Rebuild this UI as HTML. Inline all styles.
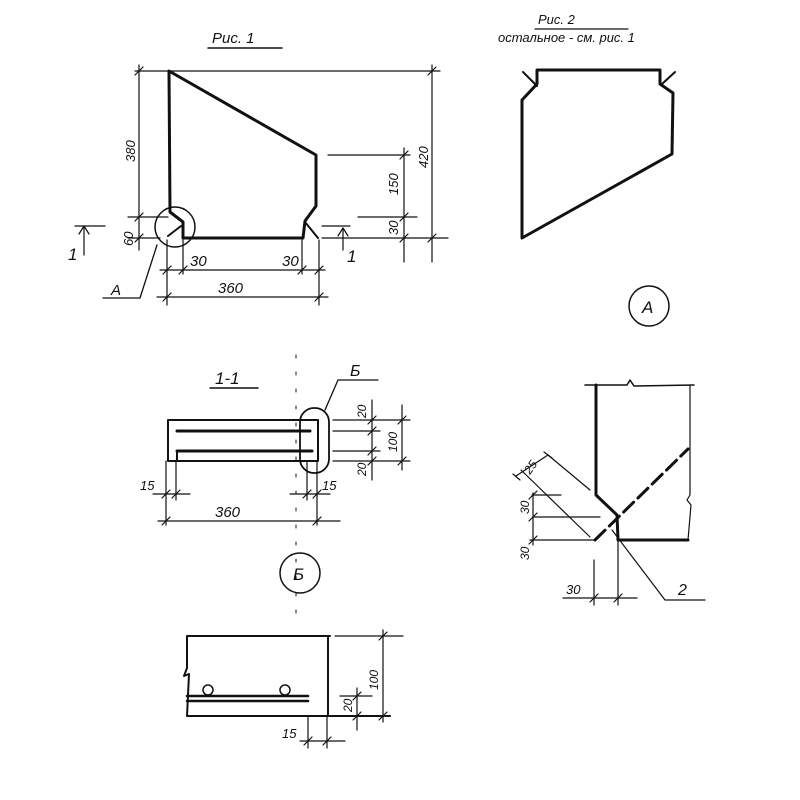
<!DOCTYPE html>
<html><head><meta charset="utf-8"><style>
html,body{margin:0;padding:0;background:#fff}
svg{display:block}
text{font-family:"Liberation Sans",sans-serif;font-style:italic;fill:#111}
</style></head><body>
<svg width="800" height="800" viewBox="0 0 800 800" xmlns="http://www.w3.org/2000/svg">
<g stroke="#111" fill="none" stroke-linecap="round" stroke-linejoin="round">
<!-- Fig 1 -->
<line x1="208" y1="48" x2="282" y2="48" stroke-width="1.5"/>
<path d="M169,71 L316,155 L316,206 L305,221 L303,238 L183,238 L183,222 L170,212 Z" stroke-width="3"/>
<path d="M168,236 L181,226 M305,222 L318,238" stroke-width="2"/>
<circle cx="175" cy="227" r="20" stroke-width="1.5"/>
<path d="M157,245 L140,298 L103,298" stroke-width="1.3"/>
<g stroke-width="1.2">
<line x1="135" y1="71" x2="440" y2="71"/>
<line x1="139" y1="65" x2="139" y2="250"/>
<line x1="128" y1="217" x2="168" y2="217"/>
<line x1="128" y1="238" x2="160" y2="238"/>
<line x1="328" y1="155" x2="410" y2="155"/>
<line x1="358" y1="217" x2="417" y2="217"/>
<line x1="322" y1="238" x2="448" y2="238"/>
<line x1="404" y1="148" x2="404" y2="262"/>
<line x1="432" y1="65" x2="432" y2="262"/>
<line x1="75" y1="226" x2="105" y2="226"/>
<line x1="84" y1="255" x2="84" y2="226"/>
<path d="M79,234 L84,226 L89,234"/>
<line x1="322" y1="226" x2="350" y2="226"/>
<line x1="343" y1="250" x2="343" y2="228"/>
<path d="M338,236 L343,228 L348,236"/>
<line x1="167" y1="240" x2="167" y2="305"/>
<line x1="183" y1="240" x2="183" y2="274"/>
<line x1="319" y1="240" x2="319" y2="305"/>
<line x1="302" y1="240" x2="302" y2="274"/>
<line x1="160" y1="270" x2="325" y2="270"/>
<line x1="157" y1="297" x2="328" y2="297"/>
<!-- ticks -->
<path d="M135,75 L143,67 M135,221 L143,213 M135,242 L143,234 M400,159 L408,151 M400,221 L408,213 M400,242 L408,234 M428,75 L436,67 M428,242 L436,234 M163,274 L171,266 M179,274 L187,266 M298,274 L306,266 M315,274 L323,266 M163,301 L171,293 M315,301 L323,293"/>
</g>
<!-- Fig 2 -->
<line x1="535" y1="29" x2="628" y2="29" stroke-width="1.2"/>
<path d="M537,70 L660,70 L660,84 L673,93 L672,154 L522,238 L522,100 L537,84 Z" stroke-width="3"/>
<path d="M523,72 L537,86 M675,72 L662,84" stroke-width="2"/>
<circle cx="649" cy="306" r="20" stroke-width="1.5"/>
<!-- Section 1-1 -->
<line x1="210" y1="388" x2="258" y2="388" stroke-width="1.5"/>
<path d="M168,420 L318,420 L318,461 L168,461 Z" stroke-width="2"/>
<line x1="177" y1="431" x2="310" y2="431" stroke-width="3"/>
<line x1="177" y1="451" x2="312" y2="451" stroke-width="3"/>
<line x1="177" y1="451" x2="177" y2="461" stroke-width="2"/>
<rect x="300" y="408" width="29" height="65" rx="14" stroke-width="1.8"/>
<path d="M325,410 L338,380 L378,380" stroke-width="1.3"/>
<line x1="296" y1="355" x2="296" y2="620" stroke-width="1" stroke-dasharray="3,14"/>
<g stroke-width="1.2">
<line x1="333" y1="420" x2="410" y2="420"/>
<line x1="333" y1="431" x2="380" y2="431"/>
<line x1="333" y1="451" x2="380" y2="451"/>
<line x1="333" y1="461" x2="410" y2="461"/>
<line x1="372" y1="400" x2="372" y2="480"/>
<line x1="402" y1="405" x2="402" y2="470"/>
<line x1="166" y1="461" x2="166" y2="525"/>
<line x1="176" y1="461" x2="176" y2="500"/>
<line x1="317" y1="461" x2="317" y2="525"/>
<line x1="307" y1="461" x2="307" y2="500"/>
<line x1="153" y1="494" x2="190" y2="494"/>
<line x1="290" y1="494" x2="330" y2="494"/>
<line x1="158" y1="521" x2="340" y2="521"/>
<path d="M368,424 L376,416 M368,435 L376,427 M368,455 L376,447 M368,465 L376,457 M398,424 L406,416 M398,465 L406,457 M162,498 L170,490 M172,498 L180,490 M303,498 L311,490 M313,498 L321,490 M162,525 L170,517 M313,525 L321,517"/>
</g>
<circle cx="300" cy="573" r="20" stroke-width="1.5"/>
<!-- Detail Б -->
<path d="M187,636 L330,636 M328,636 L328,716 M187,716 L390,716 M187,636 L187,668 L184,676 L189,674 L187,716" stroke-width="2"/>
<line x1="187" y1="696" x2="308" y2="696" stroke-width="2.5"/>
<line x1="187" y1="701" x2="308" y2="701" stroke-width="2.5"/>
<circle cx="208" cy="690" r="5" stroke-width="1.5"/>
<circle cx="285" cy="690" r="5" stroke-width="1.5"/>
<g stroke-width="1.2">
<line x1="335" y1="636" x2="403" y2="636"/>
<line x1="383" y1="630" x2="383" y2="722"/>
<line x1="340" y1="696" x2="372" y2="696"/>
<line x1="357" y1="688" x2="357" y2="730"/>
<line x1="308" y1="716" x2="308" y2="748"/>
<line x1="327" y1="716" x2="327" y2="748"/>
<line x1="300" y1="741" x2="345" y2="741"/>
<path d="M379,640 L387,632 M379,720 L387,712 M353,700 L361,692 M353,720 L361,712 M304,745 L312,737 M323,745 L331,737"/>
</g>
<!-- Detail A -->
<path d="M585,385 L627,385 L630,380 L634,386 L694,385" stroke-width="1.5"/>
<path d="M596,385 L596,495 L617,515 L618,540 L688,540" stroke-width="3"/>
<path d="M690,385 L690,495 L687,500 L691,505 L688,540" stroke-width="1.2"/>
<line x1="595" y1="540" x2="688" y2="449" stroke-width="3" stroke-dasharray="14,6"/>
<g stroke-width="1.2">
<line x1="521" y1="470" x2="590" y2="537"/>
<line x1="516" y1="476" x2="548" y2="455"/>
<line x1="548" y1="455" x2="590" y2="490"/>
<path d="M612,530 L665,600 L705,600"/>
<line x1="533" y1="493" x2="533" y2="545"/>
<line x1="532" y1="495" x2="561" y2="495"/>
<line x1="533" y1="517" x2="600" y2="517"/>
<line x1="530" y1="540" x2="595" y2="540"/>
<line x1="594" y1="560" x2="594" y2="605"/>
<line x1="618" y1="540" x2="618" y2="605"/>
<line x1="563" y1="598" x2="637" y2="598"/>
<path d="M529,499 L537,491 M529,521 L537,513 M529,544 L537,536 M590,602 L598,594 M614,602 L622,594 M544,452 L552,458 M513,474 L520,480"/>
</g>
</g>
<g font-size="15">
<text x="212" y="43">Рис. 1</text>
<text x="111" y="295">А</text>
<text x="68" y="260" font-size="17">1</text>
<text x="347" y="262" font-size="17">1</text>
<text x="190" y="266">30</text>
<text x="282" y="266">30</text>
<text x="218" y="293">360</text>
<text transform="translate(135,162) rotate(-90)" font-size="13">380</text>
<text transform="translate(133,246) rotate(-90)" font-size="13">60</text>
<text transform="translate(398,195) rotate(-90)" font-size="13">150</text>
<text transform="translate(398,235) rotate(-90)" font-size="13">30</text>
<text transform="translate(428,168) rotate(-90)" font-size="13">420</text>
<text x="538" y="24" font-size="13">Рис. 2</text>
<text x="498" y="42" font-size="13">остальное - см. рис. 1</text>
<text x="642" y="313" font-size="17">А</text>
<text x="215" y="384" font-size="17">1-1</text>
<text x="350" y="376" font-size="16">Б</text>
<text transform="translate(366,418) rotate(-90)" font-size="12">20</text>
<text transform="translate(397,452) rotate(-90)" font-size="12">100</text>
<text transform="translate(366,476) rotate(-90)" font-size="12">20</text>
<text x="140" y="490" font-size="13">15</text>
<text x="322" y="490" font-size="13">15</text>
<text x="215" y="517">360</text>
<text x="293" y="580" font-size="17">Б</text>
<text transform="translate(378,690) rotate(-90)" font-size="12">100</text>
<text transform="translate(352,712) rotate(-90)" font-size="12">20</text>
<text x="282" y="738" font-size="13">15</text>
<text transform="translate(530,475) rotate(-55)" font-size="12">25</text>
<text transform="translate(529,514) rotate(-90)" font-size="12">30</text>
<text transform="translate(529,560) rotate(-90)" font-size="12">30</text>
<text x="566" y="594" font-size="13">30</text>
<text x="678" y="595" font-size="16">2</text>
</g>
</svg>
</body></html>
